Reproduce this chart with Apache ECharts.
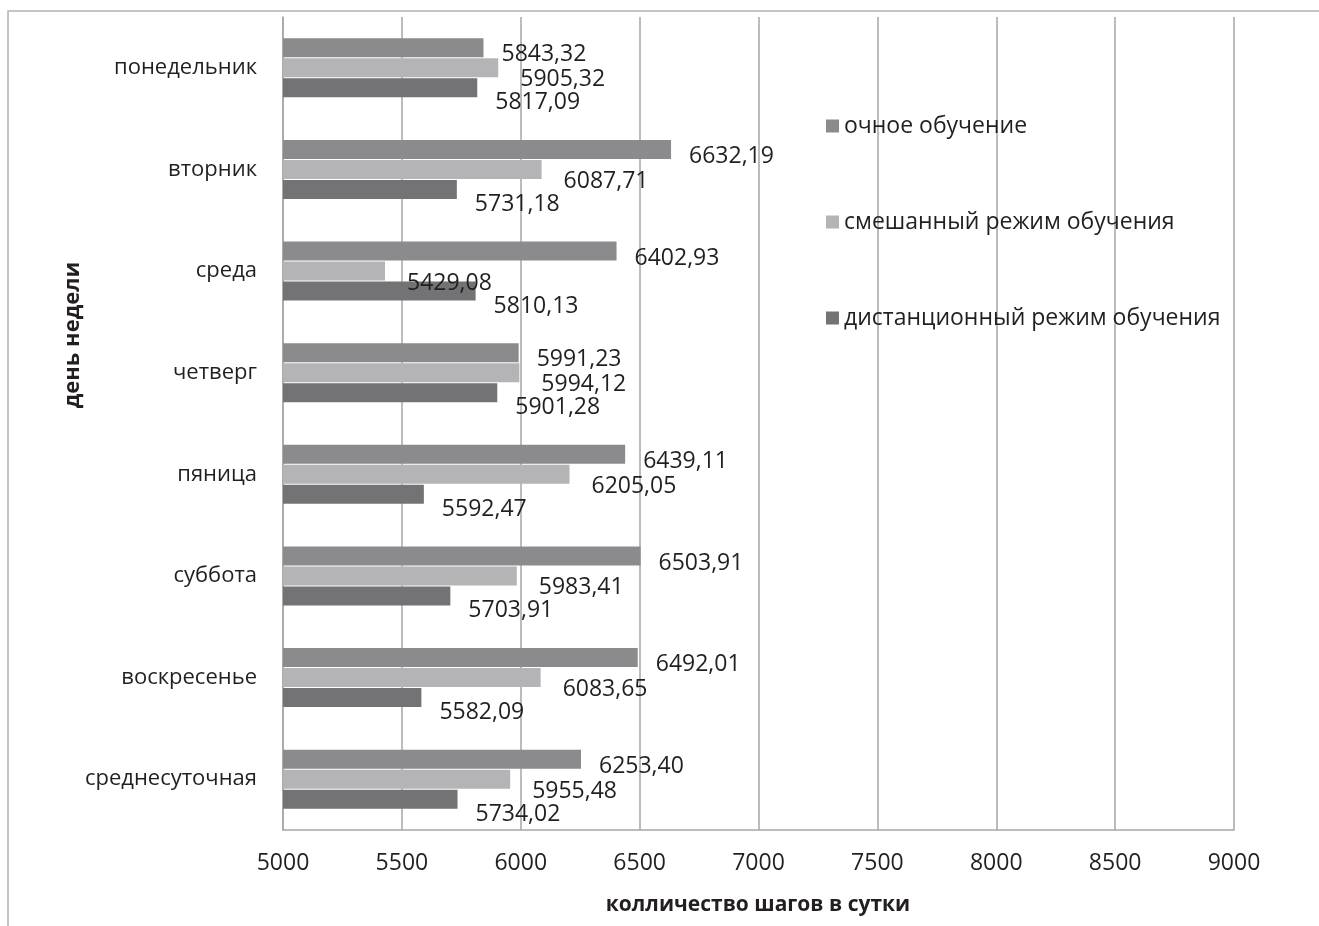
<!DOCTYPE html>
<html>
<head>
<meta charset="utf-8">
<script src="https://cdn.jsdelivr.net/npm/echarts@6/dist/echarts.min.js"></script>
<style>
  html, body { margin: 0; padding: 0; background: #ffffff; }
  #chart { width: 1319px; height: 926px; }
</style>
</head>
<body>
<div id="chart"></div>
<script>
// Days of the week (top to bottom) and the daily average row
const days = ['понедельник', 'вторник', 'среда', 'четверг', 'пяница', 'суббота', 'воскресенье', 'среднесуточная'];

// Average steps per day for each study format
const fullTime = [5843.32, 6632.19, 6402.93, 5991.23, 6439.11, 6503.91, 6492.01, 6253.40];
const blended  = [5905.32, 6087.71, 5429.08, 5994.12, 6205.05, 5983.41, 6083.65, 5955.48];
const remote   = [5817.09, 5731.18, 5810.13, 5901.28, 5592.47, 5703.91, 5582.09, 5734.02];

const seriesNames = ['очное обучение', 'смешанный режим обучения', 'дистанционный режим обучения'];

const FONT = '"Open Sans", "Noto Sans", sans-serif';
const TEXT = '#231f20';

const fmt = v => v.toFixed(2).replace('.', ',');

function barSeries(name, values, color, labelOffset) {
  return {
    name: name,
    type: 'bar',
    data: values,
    barWidth: 19,
    barGap: '5%',
    itemStyle: { color: color },
    label: {
      show: true,
      position: 'right',
      distance: 0,
      offset: labelOffset,
      color: TEXT,
      fontFamily: FONT,
      fontSize: 23,
      formatter: p => fmt(p.value)
    }
  };
}

const chart = echarts.init(document.getElementById('chart'), null, { renderer: 'canvas' });

chart.setOption({
  backgroundColor: '#ffffff',
  animation: false,
  grid: { left: 283, right: 85, top: 17, bottom: 96, containLabel: false },
  legend: {
    orient: 'vertical',
    left: 821,
    top: 109,
    itemWidth: 13,
    itemHeight: 13,
    itemGap: 72,
    icon: 'rect',
    textStyle: { color: TEXT, fontFamily: FONT, fontSize: 23, lineHeight: 24 },
    data: seriesNames
  },
  xAxis: {
    type: 'value',
    min: 5000,
    max: 9000,
    interval: 500,
    axisLine: { show: true, lineStyle: { color: '#a6a6a6', width: 1.5 } },
    axisTick: { show: false },
    splitLine: { show: true, lineStyle: { color: '#a6a6a6', width: 1.5 } },
    axisLabel: {
      color: TEXT, fontFamily: FONT, fontSize: 23, margin: 22,
      formatter: v => String(v)
    }
  },
  yAxis: {
    type: 'category',
    data: days,
    inverse: true,
    axisLine: { show: true, lineStyle: { color: '#a6a6a6', width: 1.5 } },
    axisTick: { show: false },
    axisLabel: { color: TEXT, fontFamily: FONT, fontSize: 22, margin: 26 }
  },
  graphic: [
    {
      type: 'rect',
      silent: true,
      shape: { x: 8, y: 11, width: 1400, height: 1000 },
      style: { fill: 'none', stroke: '#b3b3b3', lineWidth: 1.5 }
    },
    {
      type: 'text',
      x: 758,
      y: 905,
      style: {
        text: 'колличество шагов в сутки',
        fill: TEXT,
        font: 'bold 21px ' + FONT,
        align: 'center',
        verticalAlign: 'middle'
      }
    },
    {
      type: 'text',
      x: 73,
      y: 335,
      rotation: Math.PI / 2,
      style: {
        text: 'день недели',
        fill: TEXT,
        font: 'bold 22px ' + FONT,
        align: 'center',
        verticalAlign: 'middle'
      }
    }
  ],
  series: [
    barSeries(seriesNames[0], fullTime, '#8b8b8d', [18, 7]),
    barSeries(seriesNames[1], blended, '#b4b4b6', [22, 12]),
    barSeries(seriesNames[2], remote, '#737376', [18, 15])
  ]
});
</script>
</body>
</html>
